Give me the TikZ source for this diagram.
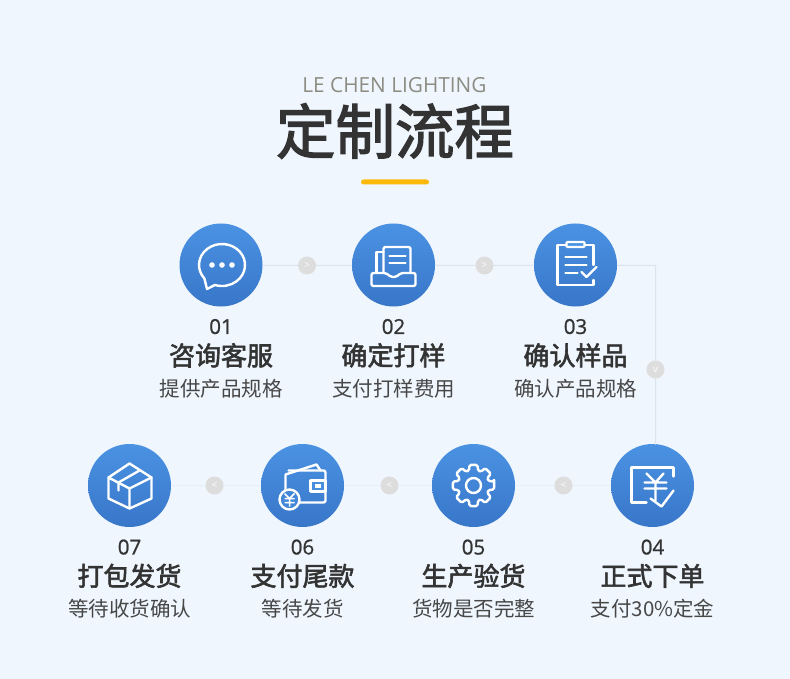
\documentclass[tikz,border=0pt]{standalone}
\usepackage{fontspec}
\usetikzlibrary{positioning}
\newfontfamily\cjk{Noto Sans CJK SC}
\newfontfamily\cjkheavy[FakeBold=2.2]{Noto Sans CJK SC}
\newfontfamily\latin{Open Sans}
\newfontfamily\latinheavy[FakeBold=1]{Open Sans}
\definecolor{pagebg}{HTML}{EFF6FE}
\definecolor{ink}{HTML}{333333}
\definecolor{brandcol}{HTML}{8C8C82}
\definecolor{barcol}{HTML}{FDB90A}
\definecolor{discA}{HTML}{4B92E3}
\definecolor{discB}{HTML}{3876C8}
\definecolor{linecol}{HTML}{DCE3EA}
\definecolor{fadecol}{HTML}{E6EEF6}
\definecolor{badgecol}{HTML}{DEDDDD}
\tikzset{
  disc/.style={circle,minimum size=83pt,inner sep=0pt,top color=discA,bottom color=discB},
  badge/.style={circle,minimum size=18pt,inner sep=0pt,fill=badgecol,text=white,font=\latin\fontsize{10}{10}\selectfont},
  stepnum/.style={inner sep=0pt,text=ink,text height=15pt,text depth=0pt,font=\latinheavy\fontsize{20.5}{20.5}\selectfont},
  stepname/.style={inner sep=0pt,text=ink,text height=22pt,text depth=4pt,font=\cjkheavy\fontsize{26}{26}\selectfont},
  stepinfo/.style={inner sep=0pt,text=ink!90,text height=17pt,text depth=3pt,font=\cjk\fontsize{20.5}{20.5}\selectfont},
  link/.style={linecol,line width=1pt},
  fadelink/.style={fadecol,line width=1pt},
  icon/.style={white,line width=2.4pt,line join=round,line cap=round}
}
\newcommand{\chaticon}{
  \draw[icon] (-14,24) -- (-16.6,13.5) arc[start angle=140,end angle=468,x radius=23,y radius=21] -- cycle;
  \fill[white] (-9,0) circle[radius=2.8] (1,0) circle[radius=2.8] (11,0) circle[radius=2.8];
}
\newcommand{\trayicon}{
  \draw[icon,rounded corners=2pt] (-10,8) -- (-10,-18) -- (17,-18) -- (17,8);
  \draw[icon] (-10,-13) -- (-17,-13) -- (-17,8);
  \draw[icon,rounded corners=2pt] (-22,8) -- (-7,8) -- (-3,12) -- (3,12) -- (7,8) -- (22,8) -- (22,21) -- (-22,21) -- cycle;
  \draw[icon] (-4,-9) -- (12,-9) (-4,-2) -- (12,-2);
}
\newcommand{\clipicon}{
  \draw[icon] (18,0) -- (18,-20) -- (-18,-20) -- (-18,20) -- (18,20) -- (18,15);
  \draw[icon,fill=discA,rounded corners=1pt] (-9,-23) rectangle (9,-18);
  \draw[icon] (-10,-8) -- (11,-8) (-10,0) -- (11,0) (-10,8) -- (2,8);
  \draw[icon] (6,7) -- (11,12) -- (21,2);
}
\newcommand{\yenicon}{
  \draw[icon] (21,-9) -- (21,-18) -- (-21,-18) -- (-21,17) -- (-6,17);
  \draw[icon] (-2,13) -- (9,21) -- (21,5);
  \draw[icon] (-6,-12) -- (3,-3) -- (11,-12) (-8,-3) -- (14,-3) (-8,3) -- (14,3) (3,-3) -- (3,15);
}
\newcommand{\gearicon}{
  \draw[icon,rounded corners=1.5pt] (-11:21)
    \foreach \a in {0,45,...,315} {
      -- (\a-11:21) -- (\a+11:21) -- (\a+17:15.5) -- (\a+28:15.5)
    } -- cycle;
  \draw[icon] (0,0) circle[radius=7.5];
}
\newcommand{\walleticon}{
  \draw[icon,rounded corners=2pt] (-17,-10) -- (-17,17) -- (23,17) -- (23,-15) -- (-14,-15);
  \draw[icon] (-17,-11) -- (14,-21) -- (18,-15);
  \draw[icon,fill=discA!90!discB] (8,-5) rectangle (23,6);
  \fill[white] (12,-2) rectangle (18,2);
  \draw[icon,fill=discA!60!discB] (-13,14) circle[radius=10];
  \draw[white,line width=1.5pt] (-18,8) -- (-13,13) -- (-8,8) (-18,13) -- (-8,13) (-18,17) -- (-8,17) (-13,13) -- (-13,21);
}
\newcommand{\boxicon}{
  \draw[icon] (0,-22) -- (22,-8) -- (22,13) -- (0,23) -- (-21,13) -- (-21,-8) -- cycle;
  \draw[icon] (-21,-8) -- (0,3) -- (22,-8) (0,3) -- (0,23);
  \draw[icon] (10,-15) -- (-11,-3) -- (-11,5);
}
\begin{document}
\begin{tikzpicture}[x=1pt,y=-1pt]
  \useasboundingbox (0,0) rectangle (790,679);
  \fill[pagebg] (0,0) rectangle (790,679);

  % heading
  \node[inner sep=0pt,text=brandcol,font=\latin\fontsize{20.8}{20.8}\selectfont] (brand) at (394.5,85) {LE CHEN LIGHTING};
  \node[inner sep=0pt,text=ink,font=\cjkheavy\fontsize{59.5}{59.5}\selectfont] (title) at (395,131) {定制流程};
  \node[inner sep=0pt,minimum width=68pt,minimum height=5pt,rounded corners=2.5pt,fill=barcol] (bar) at (395,182) {};

  % upper row
  \node[disc] (s1) at (221,265) {};
  \node[disc] (s2) at (393.5,265) {};
  \node[disc] (s3) at (575.5,265) {};
  \node[stepnum,below=12pt of s1] (n1) {01};
  \node[stepname,below=9pt of n1] (t1) {咨询客服};
  \node[stepinfo,below=9.5pt of t1] (d1) {提供产品规格};
  \node[stepnum,below=12pt of s2] (n2) {02};
  \node[stepname,below=9pt of n2] (t2) {确定打样};
  \node[stepinfo,below=9.5pt of t2] (d2) {支付打样费用};
  \node[stepnum,below=12pt of s3] (n3) {03};
  \node[stepname,below=9pt of n3] (t3) {确认样品};
  \node[stepinfo,below=9.5pt of t3] (d3) {确认产品规格};

  % lower row
  \node[disc] (s4) at (652.5,485.5) {};
  \node[disc] (s5) at (473.5,485.5) {};
  \node[disc] (s6) at (302.5,485.5) {};
  \node[disc] (s7) at (129.5,485.5) {};
  \node[stepnum,below=12pt of s4] (n4) {04};
  \node[stepname,below=9pt of n4] (t4) {正式下单};
  \node[stepinfo,below=9.5pt of t4] (d4) {支付30\%定金};
  \node[stepnum,below=12pt of s5] (n5) {05};
  \node[stepname,below=9pt of n5] (t5) {生产验货};
  \node[stepinfo,below=9.5pt of t5] (d5) {货物是否完整};
  \node[stepnum,below=12pt of s6] (n6) {06};
  \node[stepname,below=9pt of n6] (t6) {支付尾款};
  \node[stepinfo,below=9.5pt of t6] (d6) {等待发货};
  \node[stepnum,below=12pt of s7] (n7) {07};
  \node[stepname,below=9pt of n7] (t7) {打包发货};
  \node[stepinfo,below=9.5pt of t7] (d7) {等待收货确认};

  % badges on the lines
  \node[badge] (b1) at (307,265.5) {>};
  \node[badge] (b2) at (484.5,265.5) {>};
  \node[badge] (b3) at (655.5,369.5) {v};
  \node[badge] (b4) at (563.5,485.5) {<};
  \node[badge] (b5) at (389.5,485.5) {<};
  \node[badge] (b6) at (214.5,485.5) {<};
  \coordinate (turn) at (655.5,265.5);
  \coordinate (drop) at (655.5,444.5);

  \draw[link] (s1) -- (b1) -- (s2);
  \draw[link] (s2) -- (b2) -- (s3);
  \draw[link] (s3) -- (turn) -- (b3) -- (drop);
  \draw[fadelink] (s4) -- (b4) -- (s5);
  \draw[fadelink] (s5) -- (b5) -- (s6);
  \draw[fadelink] (s6) -- (b6) -- (s7);

  % icons
  \begin{scope}[shift={(s1)}] \chaticon \end{scope}
  \begin{scope}[shift={(s2)}] \trayicon \end{scope}
  \begin{scope}[shift={(s3)}] \clipicon \end{scope}
  \begin{scope}[shift={(s4)}] \yenicon \end{scope}
  \begin{scope}[shift={(s5)}] \gearicon \end{scope}
  \begin{scope}[shift={(s6)}] \walleticon \end{scope}
  \begin{scope}[shift={(s7)}] \boxicon \end{scope}
\end{tikzpicture}
\end{document}
